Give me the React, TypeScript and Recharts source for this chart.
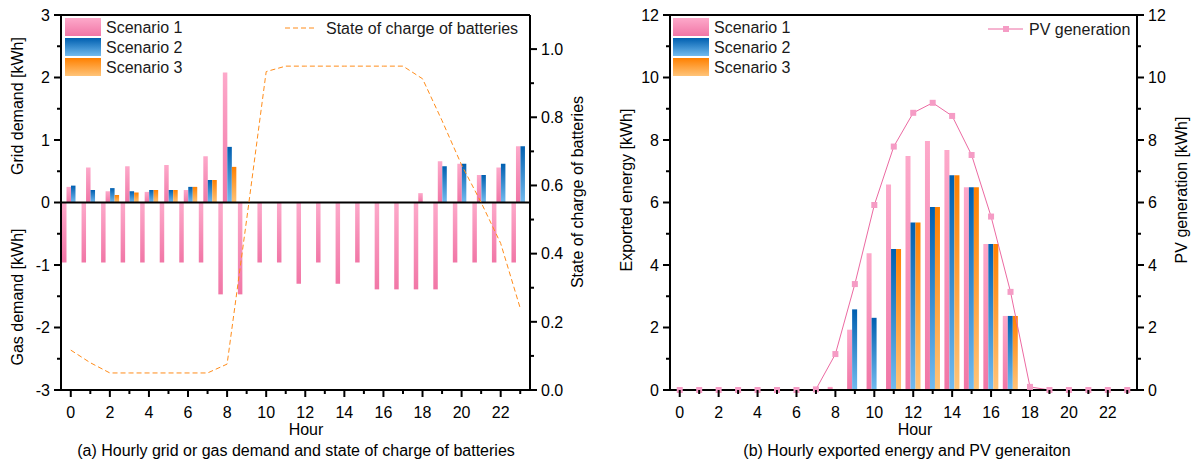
import React from 'react';
import { ComposedChart, Bar, Line, XAxis, YAxis, ReferenceLine } from 'recharts';

const hours = [0, 1, 2, 3, 4, 5, 6, 7, 8, 9, 10, 11, 12, 13, 14, 15, 16, 17, 18, 19, 20, 21, 22, 23];

// (a) grid demand per scenario, gas demand, battery state of charge
const gridS1 = [0.25, 0.56, 0.18, 0.58, 0.17, 0.6, 0.2, 0.74, 2.08, 0, 0, 0, 0, 0, 0, 0, 0, 0, 0.15, 0.66, 0.62, 0.44, 0.56, 0.9];
const gridS2 = [0.27, 0.2, 0.23, 0.18, 0.2, 0.2, 0.25, 0.36, 0.89, 0, 0, 0, 0, 0, 0, 0, 0, 0, 0, 0.58, 0.62, 0.44, 0.62, 0.9];
const gridS3 = [0, 0, 0.12, 0.16, 0.2, 0.2, 0.25, 0.36, 0.57, 0, 0, 0, 0, 0, 0, 0, 0, 0, 0, 0, 0, 0, 0, 0];
const gasDemand = [-0.96, -0.96, -0.96, -0.96, -0.96, -0.96, -0.96, -0.96, -1.47, -1.47, -0.96, -0.96, -1.3, -0.96, -1.3, -0.96, -1.39, -1.39, -1.39, -1.39, -0.96, -0.96, -0.96, -0.96];
const stateOfCharge = [0.117, 0.08, 0.05, 0.05, 0.05, 0.05, 0.05, 0.05, 0.076, 0.5, 0.934, 0.95, 0.95, 0.95, 0.95, 0.95, 0.95, 0.95, 0.913, 0.79, 0.66, 0.55, 0.43, 0.24];

// (b) exported energy per scenario and PV generation
const exportS1 = [0, 0, 0, 0, 0, 0, 0, 0, 0.1, 1.93, 4.38, 6.58, 7.49, 7.97, 7.68, 6.49, 4.67, 2.37, 0, 0, 0, 0, 0, 0];
const exportS2 = [0, 0, 0, 0, 0, 0, 0, 0, 0, 2.58, 2.31, 4.51, 5.36, 5.86, 6.87, 6.49, 4.67, 2.37, 0, 0, 0, 0, 0, 0];
const exportS3 = [0, 0, 0, 0, 0, 0, 0, 0, 0, 0, 0, 4.51, 5.36, 5.86, 6.87, 6.49, 4.67, 2.37, 0, 0, 0, 0, 0, 0];
const pvGeneration = [0, 0, 0, 0, 0, 0, 0, 0.02, 1.15, 3.39, 5.92, 7.79, 8.87, 9.19, 8.77, 7.52, 5.55, 3.14, 0.1, 0, 0, 0, 0, 0];

const demandTicks = [-3, -2.5, -2, -1.5, -1, -0.5, 0, 0.5, 1, 1.5, 2, 2.5, 3];
const socTicks = [0, 0.1, 0.2, 0.3, 0.4, 0.5, 0.6, 0.7, 0.8, 0.9, 1.0];
const energyTicks = [0, 1, 2, 3, 4, 5, 6, 7, 8, 9, 10, 11, 12];

const FONT = '"Liberation Sans", Arial, sans-serif';
const PINK_TOP = '#fda9ca';
const PINK_BOT = '#f176a6';
const BLUE_TOP = '#005fb0';
const BLUE_BOT = '#72bbef';
const ORANGE_TOP = '#ff8000';
const ORANGE_BOT = '#ffc479';
const SOC_COLOR = '#ff8c1a';
const PV_LINE = '#ec6aa2';
const PV_MARK = '#f59cc5';

const leftData = hours.map((h, i) => ({
  hour: h,
  gas: gasDemand[i],
  s1: gridS1[i],
  s2: gridS2[i],
  s3: gridS3[i],
  soc: stateOfCharge[i],
}));

const rightData = hours.map((h, i) => ({
  hour: h,
  s1: exportS1[i],
  s2: exportS2[i],
  s3: exportS3[i],
  pv: pvGeneration[i],
}));

const HourTick = (props: any) => {
  const { x, y, payload } = props;
  const major = payload.value % 2 === 0;
  return (
    <g>
      <line x1={x} x2={x} y1={y} y2={y + (major ? 7 : 4)} stroke="#000" strokeWidth={2} />
      {major && (
        <text x={x} y={y + 28} textAnchor="middle" fontSize={16} fontFamily={FONT} fill="#000">
          {payload.value}
        </text>
      )}
    </g>
  );
};

const makeYTick = (side: 'left' | 'right', isMajor: (v: number) => boolean, fmt: (v: number) => string) => (props: any) => {
  const { x, y, payload } = props;
  const v = payload.value as number;
  const major = isMajor(v);
  const dir = side === 'left' ? -1 : 1;
  const len = major ? 7 : 4;
  return (
    <g>
      <line x1={x} x2={x + dir * len} y1={y} y2={y} stroke="#000" strokeWidth={2} />
      {major && (
        <text
          x={x + dir * 11}
          y={y}
          dy="0.36em"
          textAnchor={side === 'left' ? 'end' : 'start'}
          fontSize={16}
          fontFamily={FONT}
          fill="#000"
        >
          {fmt(v)}
        </text>
      )}
    </g>
  );
};

const DemandTick = makeYTick('left', (v) => Number.isInteger(v), (v) => String(v));
const SocTick = makeYTick('right', (v) => Math.round(v * 10) % 2 === 0, (v) => v.toFixed(1));
const EnergyTickL = makeYTick('left', (v) => v % 2 === 0, (v) => String(v));
const EnergyTickR = makeYTick('right', (v) => v % 2 === 0, (v) => String(v));

const SquareDot = (props: any) => {
  const { cx, cy } = props;
  if (cx == null || cy == null) return null;
  return <rect x={cx - 3} y={cy - 3} width={6} height={6} fill={PV_MARK} />;
};

const Gradients = ({ prefix }: { prefix: string }) => (
  <defs>
    <linearGradient id={`${prefix}pink`} x1="0" y1="0" x2="0" y2="1">
      <stop offset="0%" stopColor={PINK_TOP} />
      <stop offset="100%" stopColor={PINK_BOT} />
    </linearGradient>
    <linearGradient id={`${prefix}blue`} x1="0" y1="0" x2="0" y2="1">
      <stop offset="0%" stopColor={BLUE_TOP} />
      <stop offset="100%" stopColor={BLUE_BOT} />
    </linearGradient>
    <linearGradient id={`${prefix}orange`} x1="0" y1="0" x2="0" y2="1">
      <stop offset="0%" stopColor={ORANGE_TOP} />
      <stop offset="100%" stopColor={ORANGE_BOT} />
    </linearGradient>
  </defs>
);

const axisLine = { stroke: '#000', strokeWidth: 2 };

const labelStyle = { fontSize: 16, fontFamily: FONT, fill: '#000' };
const legendStyle = { fontSize: 16, fontFamily: FONT, fill: '#1a1a1a' };

const scenarios = ['Scenario 1', 'Scenario 2', 'Scenario 3'];
const swatches = ['ovpink', 'ovblue', 'ovorange'];

const Overlay = () => (
  <svg width={1199} height={462} style={{ position: 'absolute', left: 0, top: 0, pointerEvents: 'none' }}>
    <Gradients prefix="ov" />
    {/* scenario legends */}
    {[65, 673].map((lx) =>
      scenarios.map((s, i) => (
        <g key={`${lx}-${s}`}>
          <rect x={lx} y={18 + i * 20} width={36} height={18} fill={`url(#${swatches[i]})`} />
          <text x={lx + 41} y={27 + i * 20} dy="0.36em" style={legendStyle}>{s}</text>
        </g>
      ))
    )}
    <line x1={285} x2={317} y1={28} y2={28} stroke={SOC_COLOR} strokeWidth={1} strokeDasharray="5 3" />
    <text x={326} y={28} dy="0.36em" style={legendStyle}>State of charge of batteries</text>
    <line x1={988} x2={1023} y1={29} y2={29} stroke={PV_LINE} strokeWidth={1} />
    <rect x={1003} y={26} width={6} height={6} fill={PV_MARK} />
    <text x={1029} y={29} dy="0.36em" style={legendStyle}>PV generation</text>

    {/* axis titles */}
    <text transform="translate(17,106) rotate(-90)" textAnchor="middle" dy="0.36em" style={labelStyle}>Grid demand [kWh]</text>
    <text transform="translate(17,297) rotate(-90)" textAnchor="middle" dy="0.36em" style={labelStyle}>Gas demand [kWh]</text>
    <text transform="translate(577,192) rotate(-90)" textAnchor="middle" dy="0.36em" style={labelStyle}>State of charge of batteries</text>
    <text transform="translate(626,190) rotate(-90)" textAnchor="middle" dy="0.36em" style={labelStyle}>Exported energy [kWh]</text>
    <text transform="translate(1181,190) rotate(-90)" textAnchor="middle" dy="0.36em" style={labelStyle}>PV generation [kWh]</text>
    <text x={306} y={435} textAnchor="middle" style={labelStyle}>Hour</text>
    <text x={915} y={435} textAnchor="middle" style={labelStyle}>Hour</text>
    <text x={296} y={456} textAnchor="middle" style={labelStyle}>(a) Hourly grid or gas demand and state of charge of batteries</text>
    <text x={907} y={456} textAnchor="middle" style={labelStyle}>(b) Hourly exported energy and PV generaiton</text>
  </svg>
);

export default function App() {
  return (
    <div style={{ position: 'absolute', left: 0, top: 0, width: 1199, height: 462, background: '#fff', fontFamily: FONT }}>
      <div style={{ position: 'absolute', left: 0, top: 0 }}>
        <ComposedChart width={600} height={462} data={leftData} margin={{ top: 15, right: 0, bottom: 0, left: 0 }} barGap={0}>
          <Gradients prefix="l" />
          <XAxis dataKey="hour" height={72} interval={0} tickSize={0} tickMargin={0} tickLine={false} axisLine={axisLine} tick={<HourTick />} />
          <YAxis yAxisId="left" width={61} domain={[-3, 3]} ticks={demandTicks} interval={0} tickSize={0} tickMargin={0} tickLine={false} axisLine={axisLine} tick={<DemandTick />} allowDataOverflow />
          <YAxis yAxisId="right" orientation="right" width={70} domain={[0, 1.1]} ticks={socTicks} interval={0} tickSize={0} tickMargin={0} tickLine={false} axisLine={axisLine} tick={<SocTick />} allowDataOverflow />
          <ReferenceLine yAxisId="left" y={3} stroke="#000" strokeWidth={2} />
          <Bar yAxisId="left" dataKey="gas" barSize={4.5} fill="url(#lpink)" isAnimationActive={false} />
          <Bar yAxisId="left" dataKey="s1" barSize={4.5} fill="url(#lpink)" isAnimationActive={false} />
          <Bar yAxisId="left" dataKey="s2" barSize={4.5} fill="url(#lblue)" isAnimationActive={false} />
          <Bar yAxisId="left" dataKey="s3" barSize={4.5} fill="url(#lorange)" isAnimationActive={false} />
          <ReferenceLine yAxisId="left" y={0} stroke="#000" strokeWidth={2} />
          <Line yAxisId="right" dataKey="soc" type="linear" stroke={SOC_COLOR} strokeWidth={1} strokeDasharray="5 3" dot={false} isAnimationActive={false} />
        </ComposedChart>
      </div>
      <div style={{ position: 'absolute', left: 600, top: 0 }}>
        <ComposedChart width={599} height={462} data={rightData} margin={{ top: 15, right: 0, bottom: 0, left: 0 }} barGap={0}>
          <Gradients prefix="r" />
          <XAxis dataKey="hour" height={72} interval={0} tickSize={0} tickMargin={0} tickLine={false} axisLine={axisLine} tick={<HourTick />} />
          <YAxis yAxisId="left" width={70} domain={[0, 12]} ticks={energyTicks} interval={0} tickSize={0} tickMargin={0} tickLine={false} axisLine={axisLine} tick={<EnergyTickL />} />
          <YAxis yAxisId="right" orientation="right" width={62} domain={[0, 12]} ticks={energyTicks} interval={0} tickSize={0} tickMargin={0} tickLine={false} axisLine={axisLine} tick={<EnergyTickR />} />
          <ReferenceLine yAxisId="left" y={12} stroke="#000" strokeWidth={2} />
          <Bar yAxisId="left" dataKey="s1" barSize={5} fill="url(#rpink)" isAnimationActive={false} />
          <Bar yAxisId="left" dataKey="s2" barSize={5} fill="url(#rblue)" isAnimationActive={false} />
          <Bar yAxisId="left" dataKey="s3" barSize={5} fill="url(#rorange)" isAnimationActive={false} />
          <Line yAxisId="right" dataKey="pv" type="linear" stroke={PV_LINE} strokeWidth={1} dot={<SquareDot />} isAnimationActive={false} />
        </ComposedChart>
      </div>
      <Overlay />
    </div>
  );
}
